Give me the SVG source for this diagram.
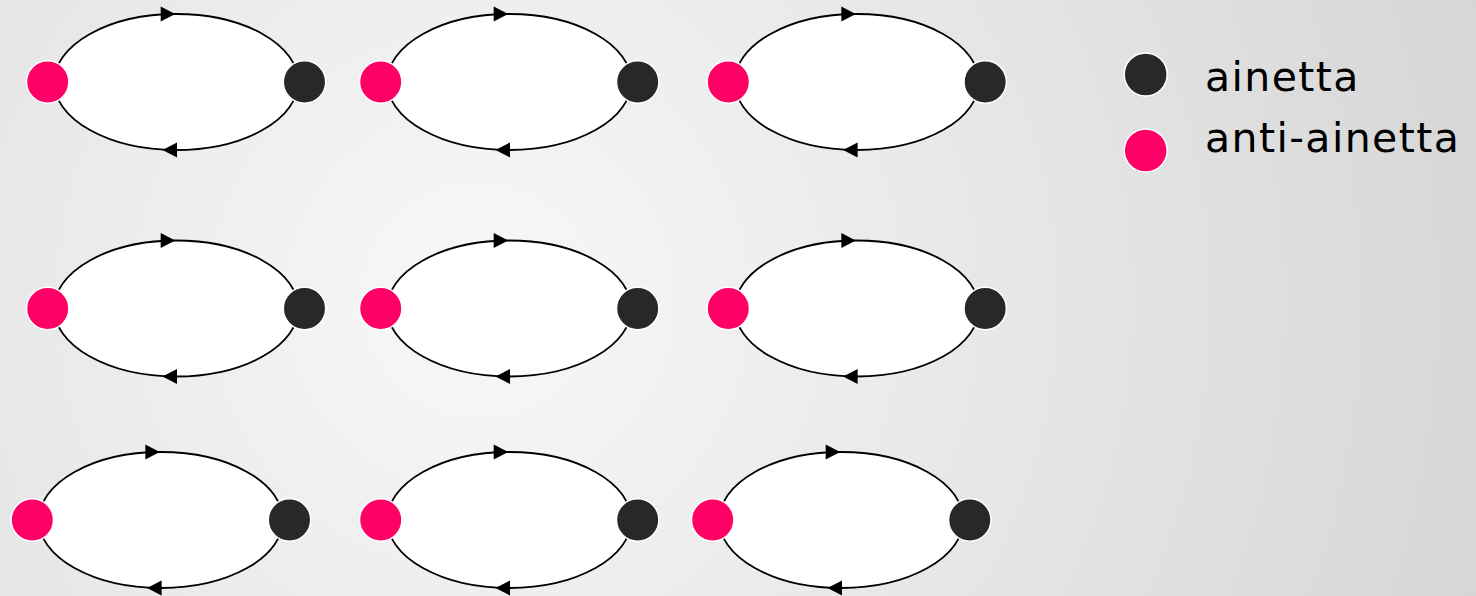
<svg xmlns="http://www.w3.org/2000/svg" xmlns:xlink="http://www.w3.org/1999/xlink" width="1476" height="596" viewBox="0 0 1476 596">
  <style>
    .loop { fill: #ffffff; stroke: #000000; stroke-width: 1.8; }
    .head { fill: #000000; }
    .anti { fill: #ff0066; stroke: #ffffff; stroke-width: 1.5; }
    .part { fill: #282828; stroke: #ffffff; stroke-width: 1.5; }
    .label { font-family: "DejaVu Sans", "Liberation Sans", sans-serif; font-size: 41px; letter-spacing: 1.4px; fill: #000000; }
  </style>
  <defs>
    <radialGradient id="bg" gradientUnits="userSpaceOnUse" cx="480" cy="300" r="1040">
      <stop offset="0" stop-color="#f8f8f8"/>
      <stop offset="1" stop-color="#d6d6d6"/>
    </radialGradient>
    <!-- arrowheads centred on their own origin -->
    <path id="hd-r" class="head" d="M-7,-7.5 L7.5,0 L-7,7.5 Z"/>
    <path id="hd-l" class="head" d="M7,-7.5 L-7.5,0 L7,7.5 Z"/>
  </defs>

  <rect width="1476" height="596" fill="url(#bg)"/>

  <!-- loops: upper arc runs left to right, lower arc right to left -->
  <g id="connectors">
    <g transform="translate(47.7,82)"><ellipse class="loop" cx="128.5" cy="0" rx="122" ry="68"/><use xlink:href="#hd-r" x="120" y="-68"/><use xlink:href="#hd-l" x="122.3" y="68"/></g>
    <g transform="translate(380.7,82)"><ellipse class="loop" cx="128.5" cy="0" rx="122" ry="68"/><use xlink:href="#hd-r" x="120" y="-68"/><use xlink:href="#hd-l" x="122.3" y="68"/></g>
    <g transform="translate(728.3,82)"><ellipse class="loop" cx="128.5" cy="0" rx="122" ry="68"/><use xlink:href="#hd-r" x="120" y="-68"/><use xlink:href="#hd-l" x="122.3" y="68"/></g>
    <g transform="translate(47.7,308.5)"><ellipse class="loop" cx="128.5" cy="0" rx="122" ry="68"/><use xlink:href="#hd-r" x="120" y="-68"/><use xlink:href="#hd-l" x="122.3" y="68"/></g>
    <g transform="translate(380.7,308.5)"><ellipse class="loop" cx="128.5" cy="0" rx="122" ry="68"/><use xlink:href="#hd-r" x="120" y="-68"/><use xlink:href="#hd-l" x="122.3" y="68"/></g>
    <g transform="translate(728.3,308.5)"><ellipse class="loop" cx="128.5" cy="0" rx="122" ry="68"/><use xlink:href="#hd-r" x="120" y="-68"/><use xlink:href="#hd-l" x="122.3" y="68"/></g>
    <g transform="translate(32.3,520)"><ellipse class="loop" cx="128.5" cy="0" rx="122" ry="68"/><use xlink:href="#hd-r" x="120" y="-68"/><use xlink:href="#hd-l" x="122.3" y="68"/></g>
    <g transform="translate(380.7,520)"><ellipse class="loop" cx="128.5" cy="0" rx="122" ry="68"/><use xlink:href="#hd-r" x="120" y="-68"/><use xlink:href="#hd-l" x="122.3" y="68"/></g>
    <g transform="translate(712.7,520)"><ellipse class="loop" cx="128.5" cy="0" rx="122" ry="68"/><use xlink:href="#hd-r" x="120" y="-68"/><use xlink:href="#hd-l" x="122.3" y="68"/></g>
  </g>

  <!-- row 1 -->
  <g id="anti-1"><circle class="anti" cx="47.7" cy="82" r="21.2"/></g>
  <g id="part-1"><circle class="part" cx="304.5" cy="82" r="21.2"/></g>
  <g id="anti-2"><circle class="anti" cx="380.7" cy="82" r="21.2"/></g>
  <g id="part-2"><circle class="part" cx="637.7" cy="82" r="21.2"/></g>
  <g id="anti-3"><circle class="anti" cx="728.3" cy="82" r="21.2"/></g>
  <g id="part-3"><circle class="part" cx="985.2" cy="82" r="21.2"/></g>

  <!-- row 2 -->
  <g id="anti-4"><circle class="anti" cx="47.7" cy="308.5" r="21.2"/></g>
  <g id="part-4"><circle class="part" cx="304.5" cy="308.5" r="21.2"/></g>
  <g id="anti-5"><circle class="anti" cx="380.7" cy="308.5" r="21.2"/></g>
  <g id="part-5"><circle class="part" cx="637.7" cy="308.5" r="21.2"/></g>
  <g id="anti-6"><circle class="anti" cx="728.3" cy="308.5" r="21.2"/></g>
  <g id="part-6"><circle class="part" cx="985.2" cy="308.5" r="21.2"/></g>

  <!-- row 3 -->
  <g id="anti-7"><circle class="anti" cx="32.3" cy="520" r="21.2"/></g>
  <g id="part-7"><circle class="part" cx="289.5" cy="520" r="21.2"/></g>
  <g id="anti-8"><circle class="anti" cx="380.7" cy="520" r="21.2"/></g>
  <g id="part-8"><circle class="part" cx="637.7" cy="520" r="21.2"/></g>
  <g id="anti-9"><circle class="anti" cx="712.7" cy="520" r="21.2"/></g>
  <g id="part-9"><circle class="part" cx="969.8" cy="520" r="21.2"/></g>

  <!-- key -->
  <g id="legend-ainetta">
    <circle class="part" cx="1145.7" cy="74.5" r="21.5"/>
    <text class="label" x="1205" y="90.7">ainetta</text>
  </g>
  <g id="legend-anti-ainetta">
    <circle class="anti" cx="1145.7" cy="150.5" r="21.5"/>
    <text class="label" x="1205" y="151.7">anti-ainetta</text>
  </g>
</svg>
